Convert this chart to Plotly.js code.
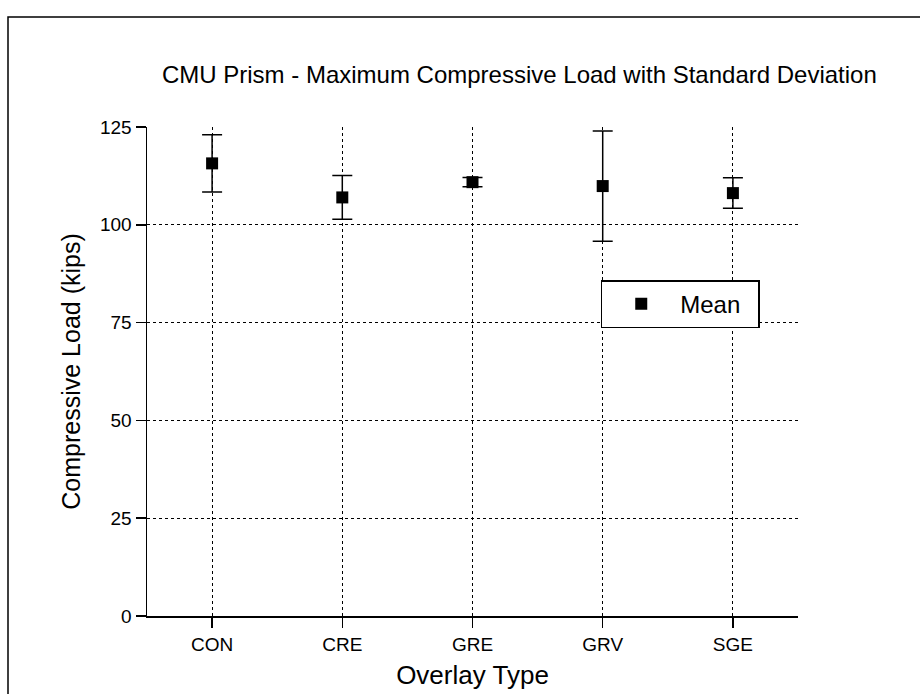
<!DOCTYPE html>
<html>
<head>
<meta charset="utf-8">
<script src="https://cdn.plot.ly/plotly-3.0.1.min.js"></script>
<style>
html,body{margin:0;padding:0;background:#fff;}
#chart{width:920px;height:694px;}
</style>
</head>
<body>
<div id="chart"></div>
<script>
// Data
const categories = ['CON', 'CRE', 'GRE', 'GRV', 'SGE'];
const meanLoad = [115.7, 107.0, 110.9, 109.9, 108.1];
const stdDev = [7.3, 5.6, 1.2, 14.1, 3.9];
const yTicks = [0, 25, 50, 75, 100, 125];
const gridTicks = [25, 50, 75, 100];

const FONT = 'Liberation Sans, Arial, Helvetica, sans-serif';

const traces = [
  {
    type: 'scatter',
    mode: 'markers',
    name: 'Mean',
    x: categories,
    y: meanLoad,
    marker: {symbol: 'square', size: 12, color: '#000'},
    error_y: {type: 'data', array: stdDev, visible: true, color: '#000', thickness: 1.5, width: 10},
    showlegend: true
  },
  {
    // invisible helper trace on overlay axis for horizontal grid lines
    type: 'scatter',
    mode: 'markers',
    x: categories,
    y: meanLoad,
    yaxis: 'y2',
    marker: {opacity: 0},
    hoverinfo: 'skip',
    showlegend: false
  }
];

const layout = {
  width: 920,
  height: 694,
  paper_bgcolor: '#fff',
  plot_bgcolor: 'rgba(0,0,0,0)',
  margin: {l: 147, r: 122, t: 127, b: 78},
  font: {family: FONT, color: '#000', size: 19},
  title: {
    text: 'CMU Prism - Maximum Compressive Load with Standard Deviation',
    font: {family: FONT, size: 24, color: '#000'},
    xref: 'paper', x: 0.572, xanchor: 'center',
    yref: 'container', y: 0.892, yanchor: 'middle'
  },
  xaxis: {
    type: 'category',
    categoryorder: 'array',
    categoryarray: categories,
    range: [-0.5, 4.5],
    showline: true, linecolor: '#000', linewidth: 2,
    ticks: 'outside', ticklen: 10, tickwidth: 1.5, tickcolor: '#000',
    showgrid: true, gridcolor: '#000', griddash: 'dot', gridwidth: 1,
    tickfont: {family: FONT, size: 19, color: '#000'},
    title: {text: 'Overlay Type', font: {family: FONT, size: 26, color: '#000'}, standoff: 12},
    zeroline: false, fixedrange: true
  },
  yaxis: {
    range: [0, 125],
    tickvals: yTicks,
    ticktext: yTicks.map(String),
    showline: true, linecolor: '#000', linewidth: 1.5,
    ticks: 'outside', ticklen: 10, tickwidth: 1.5, tickcolor: '#000',
    showgrid: false, zeroline: false,
    tickfont: {family: FONT, size: 19, color: '#000'},
    title: {text: 'Compressive Load (kips)', font: {family: FONT, size: 25, color: '#000'}, standoff: 12},
    fixedrange: true
  },
  yaxis2: {
    overlaying: 'y',
    range: [0, 125],
    tickvals: gridTicks,
    showticklabels: false,
    ticks: '',
    showgrid: true, gridcolor: '#000', griddash: 'dot', gridwidth: 1,
    zeroline: false, showline: false, fixedrange: true
  },
  showlegend: true,
  legend: {
    orientation: 'h',
    x: 0.697, y: 0.687, xanchor: 'left', yanchor: 'top',
    bgcolor: '#fff', bordercolor: '#000', borderwidth: 1.5,
    font: {family: FONT, size: 24, color: '#000'},
    itemwidth: 68,
    entrywidth: 73
  }
};

// outer frame of the figure (scan border): left and top edges
layout.shapes = [
  {type: 'rect', xref: 'paper', yref: 'paper',
   x0: (8 - 147) / 651, x1: (925 - 147) / 651,
   y0: (616 - 700) / 489, y1: (616 - 17) / 489,
   line: {color: '#000', width: 1.5}, fillcolor: 'rgba(0,0,0,0)', layer: 'below'}
];

Plotly.newPlot('chart', traces, layout, {displayModeBar: false, staticPlot: true});
</script>
</body>
</html>
